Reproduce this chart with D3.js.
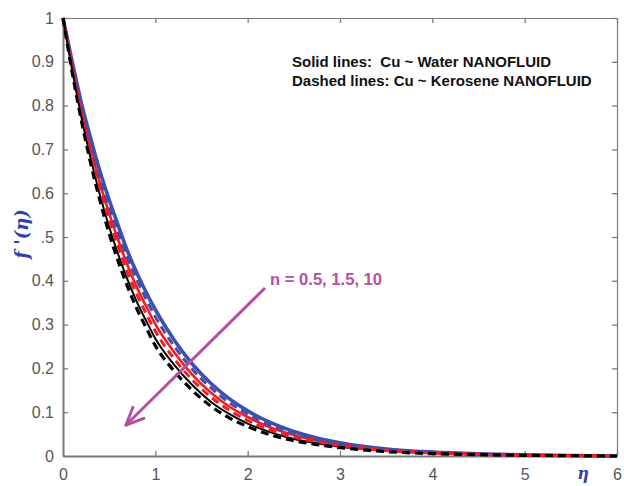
<!DOCTYPE html>
<html><head><meta charset="utf-8">
<script src="https://cdn.jsdelivr.net/npm/d3@7"></script>
<style>body{margin:0;background:#fff}svg{display:block}</style>
</head><body><svg id="c" width="624" height="486"></svg>
<script>
const etaVals = [0,0.1,0.2,0.3,0.4,0.5,0.6,0.7,0.8,0.9,1.0,1.2,1.4,1.6,1.8,2.0,2.25,2.5,2.75,3.0,3.5,4.0,4.5,5.0,5.5,6.0];
const waterN05 = [1,0.900,0.805,0.725,0.650,0.585,0.525,0.467,0.418,0.374,0.334,0.266,0.210,0.166,0.131,0.103,0.076,0.056,0.041,0.030,0.016,0.009,0.005,0.0025,0.001,0];
const keroN05  = [1,0.895,0.797,0.714,0.637,0.570,0.509,0.451,0.402,0.358,0.318,0.252,0.198,0.156,0.122,0.096,0.070,0.052,0.038,0.028,0.0152,0.0083,0.0046,0.0023,0.001,0];
const waterN15 = [1,0.890,0.789,0.702,0.623,0.554,0.492,0.435,0.385,0.342,0.301,0.238,0.186,0.145,0.113,0.089,0.065,0.048,0.035,0.026,0.0144,0.0076,0.0042,0.0021,0.0009,0];
const keroN15  = [1,0.885,0.781,0.691,0.610,0.539,0.476,0.418,0.369,0.325,0.285,0.223,0.174,0.135,0.105,0.081,0.059,0.043,0.032,0.023,0.0126,0.0069,0.0038,0.0019,0.0008,0];
const waterN10 = [1,0.880,0.773,0.679,0.596,0.523,0.459,0.402,0.352,0.309,0.268,0.209,0.162,0.124,0.096,0.074,0.054,0.039,0.029,0.021,0.0118,0.0062,0.0034,0.0017,0.0007,0];
const keroN10  = [1,0.875,0.765,0.668,0.583,0.508,0.443,0.386,0.336,0.293,0.252,0.195,0.150,0.114,0.087,0.067,0.048,0.035,0.026,0.019,0.010,0.0055,0.003,0.0015,0.0007,0];
const xTicks = [0,1,2,3,4,5,6];
const yTicks = [0,0.1,0.2,0.3,0.4,0.5,0.6,0.7,0.8,0.9,1];
const legendLines = ["Solid lines:  Cu ~ Water NANOFLUID","Dashed lines: Cu ~ Kerosene NANOFLUID"];
const annotation = "n = 0.5, 1.5, 10";

const BLUE="#3f4fae", RED="#f21d24", BLACK="#000", MAG="#b4509f", AX="#7a7a7a";
const svg = d3.select("#c");
const x = d3.scaleLinear().domain([0,6]).range([63,617]);
const y = d3.scaleLinear().domain([0,1]).range([456,18]);

function styleAxis(g, w){
  g.select(".domain").attr("stroke",AX).attr("stroke-width",w);
  g.selectAll(".tick line").attr("stroke",AX).attr("stroke-width",1.3);
  g.selectAll(".tick text").attr("fill","#555").attr("font-family","Liberation Sans, Arial, sans-serif").attr("font-size",16);
}
styleAxis(svg.append("g").attr("transform","translate(0,18)").call(d3.axisTop(x).tickValues(xTicks).tickSize(-5).tickFormat("").tickSizeOuter(0)),1.2);
styleAxis(svg.append("g").attr("transform","translate(617,0)").call(d3.axisRight(y).tickValues(yTicks).tickSize(-5).tickFormat("").tickSizeOuter(0)),1.2);
styleAxis(svg.append("g").attr("transform","translate(0,456)").call(d3.axisBottom(x).tickValues(xTicks).tickSize(-5).tickPadding(13).tickSizeOuter(0).tickFormat(d3.format("d"))),2);
styleAxis(svg.append("g").attr("transform","translate(63,0)").call(d3.axisLeft(y).tickValues(yTicks).tickSize(-5).tickPadding(9).tickSizeOuter(0).tickFormat(d=>d===0?"0":d===1?"1":d3.format(".1f")(d))),2);

const line = d3.line().x((d,i)=>x(etaVals[i])).y(d=>y(d)).curve(d3.curveMonotoneX);
const series = [
  {v:waterN05,c:BLUE,w:3.6,dash:null},
  {v:waterN15,c:RED,w:2.6,dash:null},
  {v:waterN10,c:BLACK,w:2,dash:null},
  {v:keroN05,c:BLUE,w:3,dash:"8,5"},
  {v:keroN15,c:RED,w:3,dash:"8,5"},
  {v:keroN10,c:BLACK,w:3.2,dash:"8,5"}
];
series.forEach(s=>{
  svg.append("path").attr("d",line(s.v)).attr("fill","none").attr("stroke",s.c)
    .attr("stroke-width",s.w).attr("stroke-dasharray",s.dash);
});

// legend text
legendLines.forEach((t,i)=>{
  svg.append("text").attr("x",292).attr("y",67+i*19).text(t)
    .style("white-space","pre")
    .attr("font-family","Liberation Sans, Arial, sans-serif").attr("font-weight","bold")
    .attr("font-size",15).attr("fill","#111");
});

// annotation arrow
const ax0=265, ay0=288, ax1=126, ay1=425;
svg.append("line").attr("x1",ax0).attr("y1",ay0).attr("x2",ax1+2).attr("y2",ay1-2)
  .attr("stroke",MAG).attr("stroke-width",3);
const ang=Math.atan2(ay0-ay1,ax0-ax1);
[0.42,-0.42].forEach(da=>{
  svg.append("line").attr("x1",ax1).attr("y1",ay1)
    .attr("x2",ax1+19*Math.cos(ang+da)).attr("y2",ay1+19*Math.sin(ang+da))
    .attr("stroke",MAG).attr("stroke-width",3).attr("stroke-linecap","round");
});
svg.append("text").attr("x",270).attr("y",285).text(annotation)
  .attr("font-family","Liberation Sans, Arial, sans-serif").attr("font-weight","bold")
  .attr("font-size",16.6).attr("fill",MAG);

// axis labels
svg.append("rect").attr("x",4).attr("y",202).attr("width",37.5).attr("height",64).attr("fill","#fff");
svg.append("text").attr("transform","translate(28,234) rotate(-90)").attr("text-anchor","middle")
  .text("f '(η)").attr("font-family","DejaVu Serif, serif").attr("font-style","italic")
  .attr("font-weight","bold").attr("font-size",18).attr("fill","#2f43a8");
svg.append("text").attr("x",583).attr("y",479).attr("text-anchor","middle").text("η")
  .attr("font-family","DejaVu Serif, serif").attr("font-style","italic").attr("font-weight","bold")
  .attr("font-size",16).attr("fill","#2f43a8");
</script></body></html>
